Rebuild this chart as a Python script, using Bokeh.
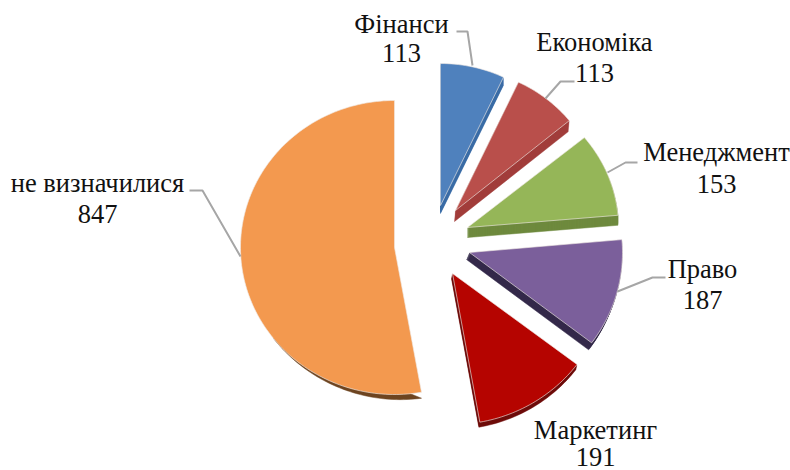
import math
from bokeh.plotting import figure
from bokeh.models import Range1d
from bokeh.core.properties import value
from bokeh.embed import file_html
from bokeh.resources import INLINE

categories = ["Фінанси", "Економіка", "Менеджмент", "Право", "Маркетинг", "не визначилися"]
values = [113, 113, 153, 187, 191, 847]

face_colors = ["#4f81bd", "#b94f4b", "#95b658", "#7b5f9b", "#b50400", "#f3994f"]
side_colors = ["#3b6ca6", "#a23f3c", "#6f8a3f", "#352a4b", "#6e0c0a", "#6d4420"]

# Layout of each exploded slice in page pixels: apex, radii, extrusion vector
apex_x = [440, 455, 467, 469, 452, 394]
apex_y = [205, 210, 227, 252, 273, 247]
radius_x = [147, 147, 151, 153, 156, 154]
radius_y = [142, 142, 142, 150, 151, 147]
depth_x = [0, -1, 0, -3, -1, 0]
depth_y = [8, 11, 10, 7, 5, 6]
side_span = [1, 1, 1, 1, 1, 0.33]

label_x = [401, 594, 716, 702, 595, 97]
label_y1 = [23, 41, 151, 268, 429, 182]
label_y2 = [52, 72, 183, 299, 456, 213]

leader_xs = [[456, 467, 472], [574, 560, 545], [637, 625, 607], [665, 652, 617], [], [189, 202, 240]]
leader_ys = [[31, 31, 65], [81, 81, 98], [162, 162, 172], [277, 277, 291], [], [190, 190, 256]]

p = figure(width=790, height=470, output_backend="svg", toolbar_location=None,
           x_range=Range1d(0, 790), y_range=Range1d(470, 0),
           x_axis_location=None, y_axis_location=None, min_border=0)
p.grid.visible = False
p.outline_line_color = None
p.background_fill_color = "white"

total = sum(values)
start = 0.0
faces = []
sides = []
for v, ax, ay, rx, ry, sp, dx, dy in zip(values, apex_x, apex_y, radius_x, radius_y, side_span, depth_x, depth_y):
    end = start + v / total * 2 * math.pi
    n = max(8, int(v / 6))
    th = [start + (end - start) * i / n for i in range(n + 1)]
    arc_x = [ax + rx * math.sin(t) for t in th]
    arc_y = [ay - ry * math.cos(t) for t in th]
    face = ([ax] + arc_x, [ay] + arc_y)
    faces.append(face)
    if sp < 1:
        # the rim fades out along the arc: keep only its first part, tapered
        m = int(n * sp)
        tx, ty = [], []
        for j in range(m + 1):
            w = 1 - j / m
            tx.append(arc_x[j] + dx * w)
            ty.append(arc_y[j] + dy * w)
        sides.append((tx, ty))
    else:
        sides.append(([x + dx for x in face[0]], [y + dy for y in face[1]]))
    start = end

for i in reversed(range(len(values))):
    xs, ys = faces[i]
    sx, sy = sides[i]
    steps = max(1, int(math.ceil(max(abs(depth_x[i]), abs(depth_y[i])))))
    lx, ly = [], []
    if side_span[i] < 1:
        lx.append(sx)
        ly.append(sy)
    else:
        for k in range(steps, 0, -1):
            f = k / steps
            lx.append([x + depth_x[i] * f for x in xs])
            ly.append([y + depth_y[i] * f for y in ys])
    p.patches(lx, ly, fill_color=side_colors[i], line_color=side_colors[i], line_width=0.5)
    p.patch(xs, ys, fill_color=face_colors[i], line_color="#f0e9e4", line_width=0.8, line_alpha=0.8)

for lxs, lys in zip(leader_xs, leader_ys):
    if lxs:
        p.line(lxs, lys, line_color="#a6a6a6", line_width=2)

font = value("Liberation Serif")
p.text(label_x, label_y1, text=categories, text_font=font, text_font_size="26.5px",
       text_align="center", text_baseline="middle", text_color="#111111")
p.text(label_x, label_y2, text=[str(v) for v in values], text_font=font, text_font_size="26.5px",
       text_align="center", text_baseline="middle", text_color="#111111")

open("out.html", "w").write(file_html(p, INLINE))
